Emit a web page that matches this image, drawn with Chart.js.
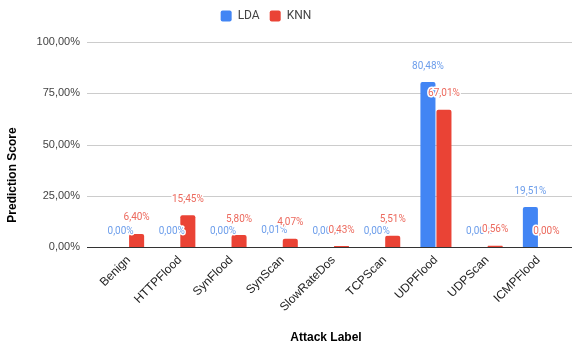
<!DOCTYPE html>
<html>
<head>
<meta charset="utf-8">
<script src="https://cdn.jsdelivr.net/npm/chart.js@4.4.1/dist/chart.umd.min.js"></script>
<style>
  html, body { margin: 0; padding: 0; background: #fff; }
  #wrap { width: 572px; height: 347px; position: relative; }
</style>
</head>
<body>
<div id="wrap"><canvas id="main-graph"></canvas></div>
<script>
const labels = [
  "Benign",
  "HTTPFlood",
  "SynFlood",
  "SynScan",
  "SlowRateDos",
  "TCPScan",
  "UDPFlood",
  "UDPScan",
  "ICMPFlood",
];
const ldaScores = [0.0, 0.0, 0.0, 0.01, 0.0, 0.0, 80.48, 0.0, 19.51];
const knnScores = [6.4, 15.45, 5.8, 4.07, 0.43, 5.51, 67.01, 0.56, 0.0];
const yTicks = [0, 25, 50, 75, 100];

const fmt = (v) => v.toFixed(2).replace(".", ",") + "%";

// value labels above each bar, with a white halo like the sheet export
const barValues = {
  id: "barValues",
  afterDatasetsDraw(chart) {
    const ctx = chart.ctx;
    ctx.save();
    ctx.font = "10px Roboto";
    ctx.textAlign = "center";
    ctx.textBaseline = "middle";
    ctx.lineJoin = "round";
    chart.data.datasets.forEach((ds, i) => {
      const meta = chart.getDatasetMeta(i);
      meta.data.forEach((bar, j) => {
        const y = bar.y - 16;
        const txt = fmt(ds.data[j]);
        ctx.strokeStyle = "#fff";
        ctx.lineWidth = 3;
        ctx.strokeText(txt, bar.x, y);
        ctx.fillStyle = ds.labelColor;
        ctx.fillText(txt, bar.x, y);
      });
    });
    ctx.restore();
  },
};

// horizontal grid a bit wider than the bar area, plus axis titles
const frame = {
  id: "frame",
  afterLayout(chart) {
    // legend sits a little left of the canvas centre
    chart.legend.left -= 16;
    chart.legend.right -= 16;
  },
  beforeDatasetsDraw(chart) {
    const ctx = chart.ctx;
    const y = chart.scales.y;
    ctx.save();
    yTicks.forEach((t) => {
      const py = Math.round(y.getPixelForValue(t)) + 0.5;
      ctx.strokeStyle = t === 0 ? "#333" : "#ccc";
      ctx.lineWidth = 1;
      ctx.beginPath();
      ctx.moveTo(87, py);
      ctx.lineTo(572, py);
      ctx.stroke();
    });
    ctx.restore();
  },
  afterDraw(chart) {
    const ctx = chart.ctx;
    ctx.save();
    ctx.fillStyle = "#000";
    ctx.font = "bold 12px 'Liberation Sans'";
    ctx.textAlign = "center";
    ctx.textBaseline = "middle";
    ctx.fillText("Attack Label", 326, 338);
    ctx.translate(13, 175);
    ctx.rotate(-Math.PI / 2);
    ctx.fillText("Prediction Score", 0, 0);
    ctx.restore();
  },
};

new Chart(document.getElementById("main-graph"), {
  type: "bar",
  data: {
    labels: labels,
    datasets: [
      {
        label: "LDA",
        data: ldaScores,
        backgroundColor: "#4285f4",
        labelColor: "#6d9eeb",
        borderRadius: 2,
        borderSkipped: "bottom",
      },
      {
        label: "KNN",
        data: knnScores,
        backgroundColor: "#ea4335",
        labelColor: "#ec6a5e",
        borderRadius: 2,
        borderSkipped: "bottom",
      },
    ],
  },
  options: {
    responsive: true,
    maintainAspectRatio: false,
    animation: false,
    layout: { padding: { top: 0, right: 8, bottom: 0, left: 0 } },
    datasets: {
      bar: { categoryPercentage: 0.625, barPercentage: 0.94 },
    },
    scales: {
      x: {
        grid: { display: false, drawTicks: false },
        border: { display: false },
        ticks: {
          minRotation: 45,
          maxRotation: 45,
          padding: 6,
          color: "#222",
          font: { family: "'Liberation Sans'", size: 12 },
        },
        afterFit(scale) {
          scale.height = 100;
        },
      },
      y: {
        min: 0,
        max: 100,
        afterBuildTicks(scale) {
          scale.ticks = yTicks.map((v) => ({ value: v }));
        },
        grid: { display: false, drawTicks: false },
        border: { display: false },
        ticks: {
          padding: 23,
          color: "#444",
          font: { family: "'Liberation Sans'", size: 11 },
          callback: (v) => fmt(v),
        },
        afterFit(scale) {
          scale.width = 103;
        },
      },
    },
    plugins: {
      legend: {
        position: "top",
        labels: {
          boxWidth: 11,
          boxHeight: 11,
          useBorderRadius: true,
          borderRadius: 2,
          padding: 10,
          color: "#444",
          font: { family: "Roboto", size: 12 },
        },
      },
      // empty title used as a gap between the legend and the plot
      title: {
        display: true,
        text: "",
        weight: 500,
        font: { size: 1, lineHeight: 1 },
        padding: { top: 0, bottom: 9 },
      },
      tooltip: { enabled: false },
    },
  },
  plugins: [frame, barValues],
});
</script>
</body>
</html>
